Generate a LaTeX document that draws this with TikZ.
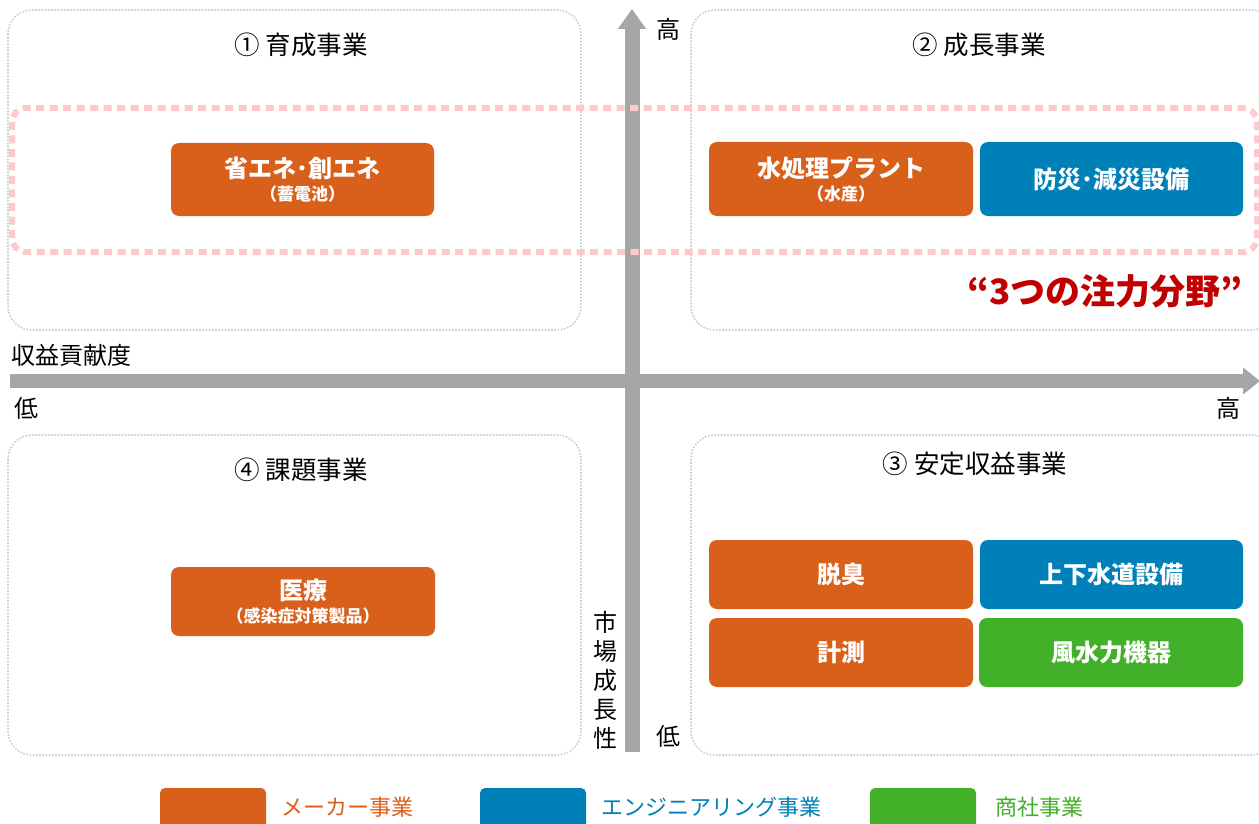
\documentclass[tikz,border=0pt]{standalone}
\usepackage{fontspec}
\setmainfont{Noto Sans CJK JP}
\usetikzlibrary{arrows.meta}
\definecolor{orng}{HTML}{D9601A}
\definecolor{blu}{HTML}{0080B8}
\definecolor{grn}{HTML}{43B02A}
\definecolor{redq}{HTML}{C00000}
\definecolor{pinkd}{HTML}{FFC9C9}
\definecolor{axisg}{HTML}{A6A6A6}
\definecolor{quadg}{HTML}{C8CDD2}
\newcommand\subtxt{\bfseries\fontsize{17}{19}\selectfont}
\tikzset{
  quad/.style={draw=quadg, line width=1.6pt, dash pattern=on 1.6pt off 1.6pt, rounded corners=24pt},
  biz/.style={rounded corners=8pt, text=white, font=\bfseries\fontsize{24}{26}\selectfont, align=center, inner sep=0pt},
  qtitle/.style={font=\fontsize{25.5}{27}\selectfont, text=black, anchor=center},
  axlab/.style={font=\fontsize{24}{26}\selectfont, text=black},
  legtext/.style={font=\fontsize{22}{24}\selectfont, anchor=west},
}
\begin{document}
\begin{tikzpicture}[x=1pt,y=-1pt]
\useasboundingbox (0,0) rectangle (1259,824);
\clip (0,0) rectangle (1259,824);
% quadrants
\draw[quad] (8,10) rectangle (581,330);
\draw[quad] (691,10) rectangle (1275,330);
\draw[quad] (8,435) rectangle (581,755);
\draw[quad] (691,435) rectangle (1275,755);
% titles
\node[qtitle] (t1) at (301,45) {① 育成事業};
\node[qtitle] (t2) at (979,45) {② 成長事業};
\node[qtitle] (t4) at (301,470) {④ 課題事業};
\node[qtitle] (t3) at (975,464) {③ 安定収益事業};
% axes
\coordinate (vb) at (632,752);
\coordinate (vt) at (632,9);
\coordinate (hl) at (10,381);
\coordinate (hr) at (1260,381);
\draw[axisg, line width=15pt, -{Triangle[width=27pt,length=20pt]}] (vb) -- (vt);
\draw[axisg, line width=14pt, -{Triangle[width=26pt,length=17pt]}] (hl) -- (hr);
\node[axlab] (vhi) at (668,29) {高};
\node[axlab] (vlo) at (668,736) {低};
\node[axlab, anchor=west] (hname) at (8,355) {収益貢献度};
\node[axlab] (hlo) at (26,408) {低};
\node[axlab] (hhi) at (1228,408) {高};
\node[axlab, align=center, font=\fontsize{24}{29}\selectfont] (vname) at (605,680) {市\\場\\成\\長\\性};
% pink band
\draw[pinkd, line width=6pt, dash pattern=on 8pt off 5.5pt, rounded corners=14pt] (12,108) rectangle (1257,252);
% business boxes
\node[biz, fill=orng, minimum width=263pt, minimum height=73pt] (b1) at (302.5,179.5) {省エネ･創エネ\\[-3pt]{\subtxt（蓄電池）}};
\node[biz, fill=orng, minimum width=264pt, minimum height=74pt] (b2) at (841,179) {水処理プラント\\[-3pt]{\subtxt（水産）}};
\node[biz, fill=blu, minimum width=263pt, minimum height=74pt] (b3) at (1111.5,179) {防災･減災設備};
\node[biz, fill=orng, minimum width=264pt, minimum height=69pt] (b4) at (303,601.5) {医療\\[-3pt]{\subtxt（感染症対策製品）}};
\node[biz, fill=orng, minimum width=264pt, minimum height=69pt] (b5) at (841,574.5) {脱臭};
\node[biz, fill=blu, minimum width=263pt, minimum height=69pt] (b6) at (1111.5,574.5) {上下水道設備};
\node[biz, fill=orng, minimum width=264pt, minimum height=69pt] (b7) at (841,652.5) {計測};
\node[biz, fill=grn, minimum width=264pt, minimum height=69pt] (b8) at (1111,652.5) {風水力機器};
% focus label
\node[text=redq, font=\bfseries\fontsize{35}{37}\selectfont] (focus) at (1105,291) {“3つの注力分野”};
% legend
\fill[orng, rounded corners=5pt] (160,788) rectangle (266,840);
\node[legtext, text=orng] (l1) at (278,807) {メーカー事業};
\fill[blu, rounded corners=5pt] (480,788) rectangle (586,840);
\node[legtext, text=blu] (l2) at (598,807) {エンジニアリング事業};
\fill[grn, rounded corners=5pt] (870,788) rectangle (976,840);
\node[legtext, text=grn] (l3) at (992,807) {商社事業};
\end{tikzpicture}
\end{document}
